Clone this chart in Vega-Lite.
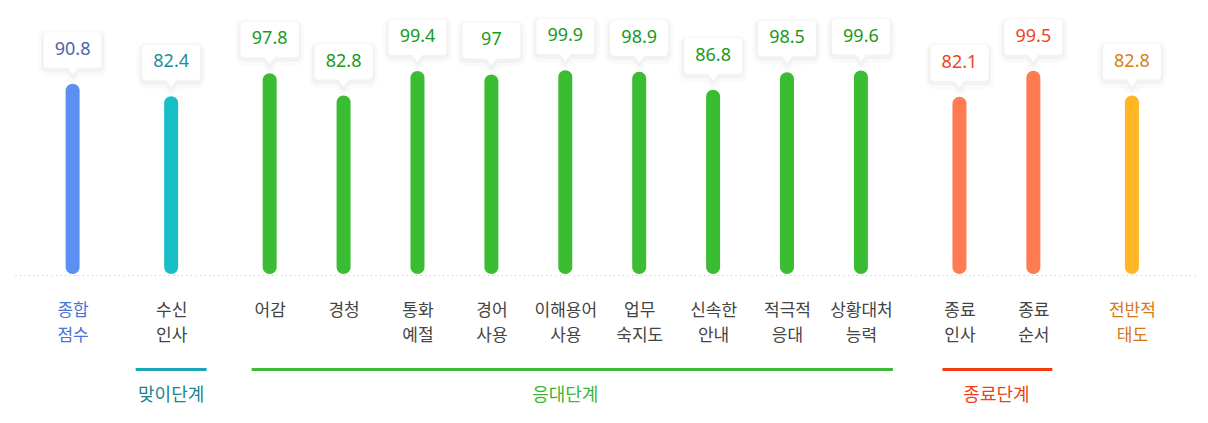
{
  "$schema": "https://vega.github.io/schema/vega-lite/v6.json",
  "autosize": "none",
  "width": 1180,
  "height": 204,
  "padding": {"top": 70, "left": 15, "right": 13, "bottom": 149},
  "config": {"font": "Noto Sans CJK KR", "view": {"stroke": null}},
  "datasets": {
    "scores": [
      {"name": "종합 점수", "value": 90.8, "group": "종합"},
      {"name": "수신 인사", "value": 82.4, "group": "맞이단계"},
      {"name": "어감", "value": 97.8, "group": "응대단계"},
      {"name": "경청", "value": 82.8, "group": "응대단계"},
      {"name": "통화 예절", "value": 99.4, "group": "응대단계"},
      {"name": "경어 사용", "value": 97, "group": "응대단계"},
      {"name": "이해용어 사용", "value": 99.9, "group": "응대단계"},
      {"name": "업무 숙지도", "value": 98.9, "group": "응대단계"},
      {"name": "신속한 안내", "value": 86.8, "group": "응대단계"},
      {"name": "적극적 응대", "value": 98.5, "group": "응대단계"},
      {"name": "상황대처 능력", "value": 99.6, "group": "응대단계"},
      {"name": "종료 인사", "value": 82.1, "group": "종료단계"},
      {"name": "종료 순서", "value": 99.5, "group": "종료단계"},
      {"name": "전반적 태도", "value": 82.8, "group": "전반적"}
    ],
    "stages": [
      {"group": "맞이단계", "name": "수신 인사", "last": "수신 인사", "center": "수신 인사"},
      {"group": "응대단계", "name": "어감", "last": "상황대처 능력", "center": "이해용어 사용"},
      {"group": "종료단계", "name": "종료 인사", "last": "종료 순서", "center": "종료 인사"}
    ]
  },
  "encoding": {
    "x": {
      "field": "name",
      "type": "nominal",
      "sort": null,
      "scale": {
        "type": "point",
        "padding": 0.45,
        "align": 0.376,
        "domain": [
          "_a", "_b",
          "종합 점수", "_1", "_2", "_3",
          "수신 인사", "_4", "_5", "_6",
          "어감", "_7", "_8", "경청", "_9", "_10", "통화 예절", "_11", "_12",
          "경어 사용", "_13", "_14", "이해용어 사용", "_15", "_16", "업무 숙지도", "_17", "_18",
          "신속한 안내", "_19", "_20", "적극적 응대", "_21", "_22", "상황대처 능력", "_23", "_24", "_25",
          "종료 인사", "_26", "_27", "종료 순서", "_28", "_29", "_30",
          "전반적 태도",
          "_y", "_z"
        ]
      },
      "axis": {
        "title": null,
        "ticks": false,
        "grid": false,
        "labelAngle": 0,
        "labelOverlap": false,
        "labelFlush": false,
        "labelExpr": "indexof(datum.value, '_') === 0 ? '' : split(datum.value, ' ')",
        "labelFont": "Noto Sans CJK KR",
        "labelFontSize": 17,
        "labelLineHeight": 25,
        "labelPadding": 27,
        "labelColor": {
          "condition": [
            {"test": "datum.value === '종합 점수'", "value": "#4a74d4"},
            {"test": "datum.value === '전반적 태도'", "value": "#d4781c"}
          ],
          "value": "#444444"
        },
        "domainColor": "#c4c4c4",
        "domainDash": [1, 3.5],
        "domainWidth": 1,
        "offset": 1
      }
    }
  },
  "layer": [
    {
      "data": {"name": "scores"},
      "mark": {
        "type": "bar",
        "width": 14,
        "cornerRadius": 7
      },
      "encoding": {
        "y": {
          "field": "value",
          "type": "quantitative",
          "scale": {"domain": [-37, 100], "zero": false, "nice": false},
          "axis": null
        },
        "y2": {"datum": -37},
        "color": {
          "field": "group",
          "type": "nominal",
          "legend": null,
          "scale": {
            "domain": ["종합", "맞이단계", "응대단계", "종료단계", "전반적"],
            "range": ["#5b8ff2", "#19bfc7", "#3bbd33", "#ff7c52", "#ffb524"]
          }
        }
      }
    },
    {
      "data": {"name": "scores"},
      "mark": {
        "type": "point",
        "shape": "M-0.862,-1.776L0.862,-1.776Q1,-1.776 1,-1.638L1,-0.69Q1,-0.552 0.862,-0.552L0.172,-0.552L0,-0.31L-0.172,-0.552L-0.862,-0.552Q-1,-0.552 -1,-0.69L-1,-1.638Q-1,-1.776 -0.862,-1.776Z",
        "size": 3364,
        "filled": false,
        "stroke": "#000000",
        "strokeWidth": 11,
        "strokeOpacity": 0.02,
        "strokeJoin": "round",
        "opacity": 1,
        "yOffset": 3
      },
      "encoding": {"y": {"field": "value", "type": "quantitative"}}
    },
    {
      "data": {"name": "scores"},
      "mark": {
        "type": "point",
        "shape": "M-0.862,-1.776L0.862,-1.776Q1,-1.776 1,-1.638L1,-0.69Q1,-0.552 0.862,-0.552L0.172,-0.552L0,-0.31L-0.172,-0.552L-0.862,-0.552Q-1,-0.552 -1,-0.69L-1,-1.638Q-1,-1.776 -0.862,-1.776Z",
        "size": 3364,
        "filled": false,
        "stroke": "#000000",
        "strokeWidth": 5,
        "strokeOpacity": 0.03,
        "strokeJoin": "round",
        "opacity": 1,
        "yOffset": 2
      },
      "encoding": {"y": {"field": "value", "type": "quantitative"}}
    },
    {
      "data": {"name": "scores"},
      "mark": {
        "type": "point",
        "shape": "M-0.862,-1.776L0.862,-1.776Q1,-1.776 1,-1.638L1,-0.69Q1,-0.552 0.862,-0.552L0.172,-0.552L0,-0.31L-0.172,-0.552L-0.862,-0.552Q-1,-0.552 -1,-0.69L-1,-1.638Q-1,-1.776 -0.862,-1.776Z",
        "size": 3364,
        "filled": true,
        "fill": "#ffffff",
        "strokeWidth": 0,
        "opacity": 1
      },
      "encoding": {"y": {"field": "value", "type": "quantitative"}}
    },
    {
      "data": {"name": "scores"},
      "mark": {
        "type": "text",
        "font": "Noto Sans",
        "fontSize": 18,
        "baseline": "middle",
        "yOffset": -34
      },
      "encoding": {
        "y": {"field": "value", "type": "quantitative"},
        "text": {"field": "value", "type": "quantitative"},
        "color": {
          "field": "group",
          "type": "nominal",
          "legend": null,
          "scale": {
            "domain": ["종합", "맞이단계", "응대단계", "종료단계", "전반적"],
            "range": ["#4a67a8", "#1a8fa0", "#1a9a1a", "#f2431c", "#d98010"]
          }
        }
      }
    },
    {
      "data": {"name": "stages"},
      "transform": [{"filter": "datum.group === '맞이단계'"}],
      "mark": {"type": "rule", "strokeWidth": 3, "xOffset": -35.5, "x2Offset": 35.5, "yOffset": 95.5},
      "encoding": {
        "x2": {"field": "last"},
        "y": {"datum": -37},
        "color": {"value": "#1aa7b3"}
      }
    },
    {
      "data": {"name": "stages"},
      "transform": [{"filter": "datum.group === '응대단계'"}],
      "mark": {"type": "rule", "strokeWidth": 3, "xOffset": -18, "x2Offset": 32, "yOffset": 95.5},
      "encoding": {
        "x2": {"field": "last"},
        "y": {"datum": -37},
        "color": {"value": "#3cbb35"}
      }
    },
    {
      "data": {"name": "stages"},
      "transform": [{"filter": "datum.group === '종료단계'"}],
      "mark": {"type": "rule", "strokeWidth": 3, "xOffset": -17, "x2Offset": 19, "yOffset": 95.5},
      "encoding": {
        "x2": {"field": "last"},
        "y": {"datum": -37},
        "color": {"value": "#f03c10"}
      }
    },
    {
      "data": {"name": "stages"},
      "transform": [{"filter": "datum.group !== '종료단계'"}],
      "mark": {"type": "text", "fontSize": 18, "baseline": "middle", "yOffset": 122},
      "encoding": {
        "x": {"field": "center", "type": "nominal"},
        "y": {"datum": -37},
        "text": {"field": "group"},
        "color": {
          "field": "group",
          "type": "nominal",
          "legend": null,
          "scale": {"domain": ["맞이단계", "응대단계"], "range": ["#1a8591", "#3cb535"]}
        }
      }
    },
    {
      "data": {"name": "stages"},
      "transform": [{"filter": "datum.group === '종료단계'"}],
      "mark": {"type": "text", "fontSize": 18, "baseline": "middle", "yOffset": 122, "xOffset": 37, "color": "#f0401a"},
      "encoding": {
        "x": {"field": "center", "type": "nominal"},
        "y": {"datum": -37},
        "text": {"field": "group"}
      }
    }
  ],
  "resolve": {"scale": {"color": "independent"}}
}
